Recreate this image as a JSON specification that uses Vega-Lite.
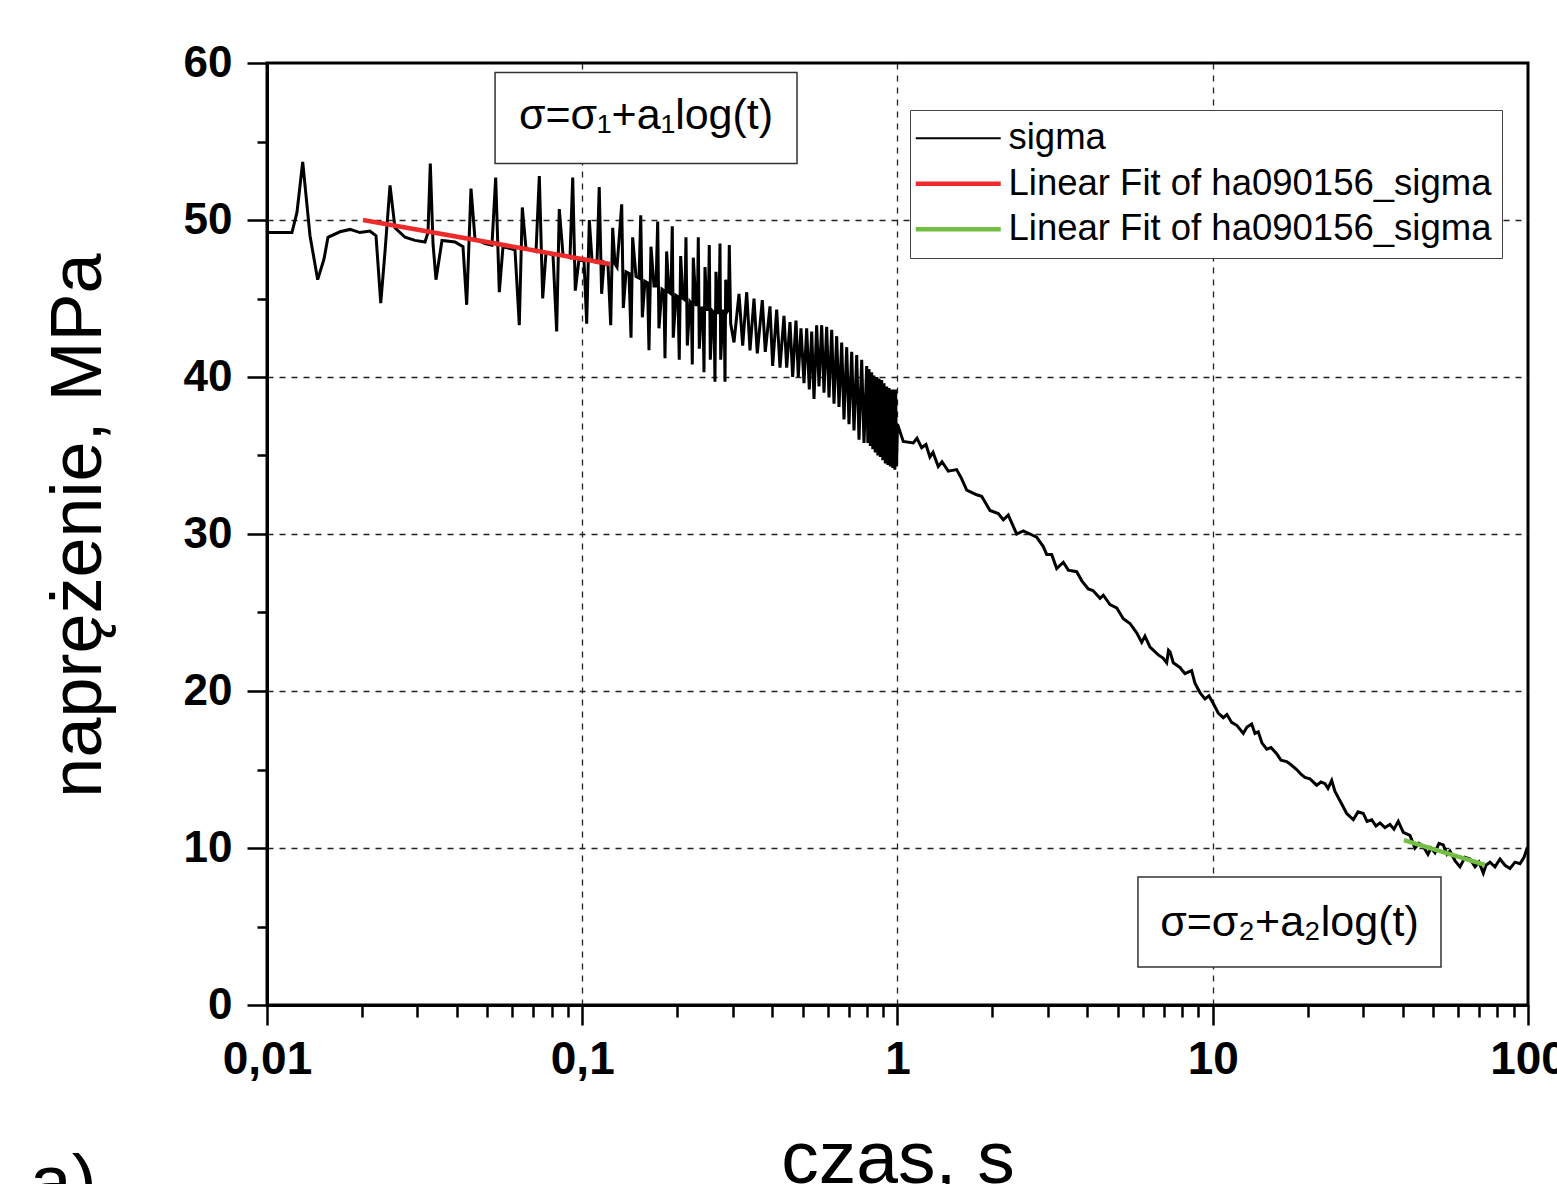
{
  "$schema": "https://vega.github.io/schema/vega-lite/v6.json",
  "width": 1261,
  "height": 942,
  "autosize": {"type": "none"},
  "padding": {"left": 267, "top": 63, "right": 29, "bottom": 179},
  "background": "white",
  "title": {"text": "a)", "orient": "bottom", "anchor": "start", "frame": "group", "offset": 10, "baseline": "alphabetic", "dx": -237, "fontSize": 75, "fontWeight": "normal", "font": "Liberation Sans, Arial, sans-serif", "color": "black"},
  "config": {
    "view": {"stroke": "black", "strokeWidth": 3},
    "font": "Liberation Sans, Arial, sans-serif"
  },
  "datasets": {
    "curve": [
      {"t":0.01,"s":49.2,"k":"sigma"},{"t":0.012,"s":49.2,"k":"sigma"},{"t":0.01245,"s":50.5,"k":"sigma"},{"t":0.01298,"s":53.7,"k":"sigma"},{"t":0.01369,"s":49.0,"k":"sigma"},{"t":0.01448,"s":46.2,"k":"sigma"},{"t":0.01516,"s":47.5,"k":"sigma"},{"t":0.01561,"s":48.9,"k":"sigma"},{"t":0.01704,"s":49.25,"k":"sigma"},{"t":0.01834,"s":49.4,"k":"sigma"},{"t":0.01972,"s":49.2,"k":"sigma"},{"t":0.02121,"s":49.3,"k":"sigma"},{"t":0.02217,"s":49.0,"k":"sigma"},{"t":0.02295,"s":44.7,"k":"sigma"},{"t":0.02368,"s":48.0,"k":"sigma"},{"t":0.02456,"s":52.2,"k":"sigma"},{"t":0.02547,"s":49.5,"k":"sigma"},{"t":0.0274,"s":48.9,"k":"sigma"},{"t":0.02948,"s":48.7,"k":"sigma"},{"t":0.03171,"s":48.6,"k":"sigma"},{"t":0.03241,"s":49.2,"k":"sigma"},{"t":0.03296,"s":53.6,"k":"sigma"},{"t":0.03362,"s":48.5,"k":"sigma"},{"t":0.03436,"s":46.2,"k":"sigma"},{"t":0.0359,"s":48.7,"k":"sigma"},{"t":0.03948,"s":48.6,"k":"sigma"},{"t":0.04185,"s":48.3,"k":"sigma"},{"t":0.043,"s":44.6,"k":"sigma"},{"t":0.04437,"s":52.0,"k":"sigma"},{"t":0.04568,"s":48.8,"k":"sigma"},{"t":0.04914,"s":48.5,"k":"sigma"},{"t":0.05171,"s":48.4,"k":"sigma"},{"t":0.05314,"s":52.7,"k":"sigma"},{"t":0.05456,"s":45.4,"k":"sigma"},{"t":0.05605,"s":48.3,"k":"sigma"},{"t":0.06119,"s":48.1,"k":"sigma"},{"t":0.06314,"s":43.3,"k":"sigma"},{"t":0.06454,"s":50.8,"k":"sigma"},{"t":0.0663,"s":48.2,"k":"sigma"},{"t":0.07135,"s":48.0,"k":"sigma"},{"t":0.07308,"s":52.8,"k":"sigma"},{"t":0.07491,"s":45.0,"k":"sigma"},{"t":0.07674,"s":47.9,"k":"sigma"},{"t":0.08076,"s":47.8,"k":"sigma"},{"t":0.08296,"s":42.9,"k":"sigma"},{"t":0.08456,"s":50.7,"k":"sigma"},{"t":0.08687,"s":47.8,"k":"sigma"},{"t":0.09144,"s":47.6,"k":"sigma"},{"t":0.09327,"s":52.7,"k":"sigma"},{"t":0.09505,"s":45.5,"k":"sigma"},{"t":0.09765,"s":47.5,"k":"sigma"},{"t":0.1013,"s":47.4,"k":"sigma"},{"t":0.1033,"s":43.4,"k":"sigma"},{"t":0.1053,"s":50.0,"k":"sigma"},{"t":0.1074,"s":47.4,"k":"sigma"},{"t":0.1114,"s":47.3,"k":"sigma"},{"t":0.1132,"s":52.1,"k":"sigma"},{"t":0.1152,"s":45.3,"k":"sigma"},{"t":0.1172,"s":47.3,"k":"sigma"},{"t":0.1207,"s":47.1,"k":"sigma"},{"t":0.1231,"s":43.3,"k":"sigma"},{"t":0.1249,"s":49.5,"k":"sigma"},{"t":0.127,"s":47.2,"k":"sigma"},
      {"t":0.1289,"s":47.0,"k":"sigma"},{"t":0.1334,"s":51.0,"k":"sigma"},{"t":0.135,"s":44.4,"k":"sigma"},{"t":0.1377,"s":46.7,"k":"sigma"},{"t":0.1407,"s":46.6,"k":"sigma"},{"t":0.1428,"s":42.5,"k":"sigma"},{"t":0.1445,"s":48.9,"k":"sigma"},{"t":0.1481,"s":46.4,"k":"sigma"},{"t":0.1514,"s":46.3,"k":"sigma"},{"t":0.1533,"s":50.3,"k":"sigma"},{"t":0.1551,"s":43.8,"k":"sigma"},{"t":0.1581,"s":46.1,"k":"sigma"},{"t":0.1611,"s":46.0,"k":"sigma"},{"t":0.1628,"s":41.7,"k":"sigma"},{"t":0.1652,"s":48.3,"k":"sigma"},{"t":0.1689,"s":45.8,"k":"sigma"},{"t":0.1714,"s":45.8,"k":"sigma"},{"t":0.1735,"s":49.9,"k":"sigma"},{"t":0.1751,"s":43.1,"k":"sigma"},{"t":0.179,"s":45.6,"k":"sigma"},{"t":0.1816,"s":45.5,"k":"sigma"},{"t":0.183,"s":41.2,"k":"sigma"},{"t":0.1852,"s":48.0,"k":"sigma"},{"t":0.1884,"s":45.4,"k":"sigma"},{"t":0.1912,"s":45.3,"k":"sigma"},{"t":0.193,"s":49.6,"k":"sigma"},{"t":0.1944,"s":42.5,"k":"sigma"},{"t":0.1983,"s":45.2,"k":"sigma"},{"t":0.2012,"s":45.1,"k":"sigma"},{"t":0.2031,"s":41.1,"k":"sigma"},{"t":0.2052,"s":47.7,"k":"sigma"},{"t":0.2087,"s":45.0,"k":"sigma"},{"t":0.2118,"s":44.9,"k":"sigma"},{"t":0.2133,"s":48.9,"k":"sigma"},{"t":0.2154,"s":42.0,"k":"sigma"},{"t":0.2197,"s":44.8,"k":"sigma"},{"t":0.2218,"s":44.7,"k":"sigma"},{"t":0.2234,"s":40.8,"k":"sigma"},{"t":0.225,"s":47.6,"k":"sigma"},{"t":0.2295,"s":44.6,"k":"sigma"},{"t":0.232,"s":44.6,"k":"sigma"},{"t":0.2334,"s":48.9,"k":"sigma"},{"t":0.2351,"s":41.8,"k":"sigma"},{"t":0.2389,"s":44.4,"k":"sigma"},{"t":0.2415,"s":44.4,"k":"sigma"},{"t":0.2433,"s":40.3,"k":"sigma"},{"t":0.2451,"s":47.0,"k":"sigma"},{"t":0.2487,"s":44.3,"k":"sigma"},{"t":0.2511,"s":44.3,"k":"sigma"},{"t":0.2529,"s":48.4,"k":"sigma"},{"t":0.2548,"s":41.1,"k":"sigma"},{"t":0.2589,"s":44.2,"k":"sigma"},{"t":0.2618,"s":44.1,"k":"sigma"},{"t":0.2636,"s":39.7,"k":"sigma"},{"t":0.2656,"s":46.7,"k":"sigma"},{"t":0.2695,"s":44.1,"k":"sigma"},{"t":0.2715,"s":44.1,"k":"sigma"},{"t":0.2735,"s":48.5,"k":"sigma"},{"t":0.2749,"s":41.1,"k":"sigma"},{"t":0.2795,"s":44.2,"k":"sigma"},{"t":0.282,"s":44.2,"k":"sigma"},{"t":0.2837,"s":39.7,"k":"sigma"},{"t":0.2851,"s":46.2,"k":"sigma"},{"t":0.2889,"s":44.2,"k":"sigma"},{"t":0.291,"s":44.3,"k":"sigma"},{"t":0.2927,"s":48.4,"k":"sigma"},{"t":0.2957,"s":43.4,"k":"sigma"},
      {"t":0.3029,"s":42.2,"k":"sigma"},{"t":0.3142,"s":45.3,"k":"sigma"},{"t":0.3228,"s":42.0,"k":"sigma"},{"t":0.3324,"s":45.4,"k":"sigma"},{"t":0.3405,"s":41.7,"k":"sigma"},{"t":0.3506,"s":45.0,"k":"sigma"},{"t":0.3591,"s":41.5,"k":"sigma"},{"t":0.3725,"s":44.9,"k":"sigma"},{"t":0.3807,"s":41.6,"k":"sigma"},{"t":0.394,"s":44.5,"k":"sigma"},{"t":0.4018,"s":40.7,"k":"sigma"},{"t":0.4138,"s":44.3,"k":"sigma"},{"t":0.4239,"s":40.6,"k":"sigma"},{"t":0.4364,"s":43.9,"k":"sigma"},{"t":0.4451,"s":40.6,"k":"sigma"},{"t":0.456,"s":43.5,"k":"sigma"},{"t":0.465,"s":40.0,"k":"sigma"},{"t":0.4764,"s":43.6,"k":"sigma"},{"t":0.4845,"s":40.0,"k":"sigma"},{"t":0.4941,"s":43.1,"k":"sigma"},{"t":0.5051,"s":39.6,"k":"sigma"},{"t":0.5151,"s":43.1,"k":"sigma"},{"t":0.5251,"s":39.2,"k":"sigma"},{"t":0.5343,"s":42.9,"k":"sigma"},{"t":0.5434,"s":38.6,"k":"sigma"},{"t":0.5541,"s":43.3,"k":"sigma"},{"t":0.5636,"s":39.4,"k":"sigma"},{"t":0.5748,"s":43.3,"k":"sigma"},{"t":0.5846,"s":39.0,"k":"sigma"},{"t":0.5961,"s":43.2,"k":"sigma"},{"t":0.6064,"s":38.7,"k":"sigma"},{"t":0.6184,"s":43.0,"k":"sigma"},{"t":0.6289,"s":38.3,"k":"sigma"},{"t":0.6414,"s":42.6,"k":"sigma"},{"t":0.6523,"s":38.1,"k":"sigma"},{"t":0.6652,"s":42.2,"k":"sigma"},{"t":0.6765,"s":37.3,"k":"sigma"},{"t":0.69,"s":41.9,"k":"sigma"},{"t":0.7017,"s":37.0,"k":"sigma"},{"t":0.7157,"s":41.6,"k":"sigma"},{"t":0.7278,"s":36.6,"k":"sigma"},{"t":0.7424,"s":41.4,"k":"sigma"},{"t":0.7549,"s":36.0,"k":"sigma"},{"t":0.7699,"s":41.1,"k":"sigma"},{"t":0.7829,"s":35.8,"k":"sigma"},{"t":0.7986,"s":40.7,"k":"sigma"},{"t":0.8052,"s":35.8,"k":"sigma"},{"t":0.8121,"s":40.5,"k":"sigma"},{"t":0.82,"s":35.6,"k":"sigma"},{"t":0.8282,"s":40.3,"k":"sigma"},{"t":0.835,"s":35.4,"k":"sigma"},{"t":0.8422,"s":40.1,"k":"sigma"},{"t":0.85,"s":35.2,"k":"sigma"},{"t":0.859,"s":40.0,"k":"sigma"},{"t":0.866,"s":35.0,"k":"sigma"},{"t":0.8736,"s":39.9,"k":"sigma"},{"t":0.882,"s":34.9,"k":"sigma"},{"t":0.8909,"s":39.8,"k":"sigma"},{"t":0.898,"s":34.7,"k":"sigma"},{"t":0.906,"s":39.6,"k":"sigma"},{"t":0.915,"s":34.5,"k":"sigma"},{"t":0.9242,"s":39.4,"k":"sigma"},{"t":0.932,"s":34.4,"k":"sigma"},{"t":0.9397,"s":39.3,"k":"sigma"},{"t":0.949,"s":34.3,"k":"sigma"},{"t":0.9583,"s":39.2,"k":"sigma"},{"t":0.966,"s":34.2,"k":"sigma"},{"t":0.9745,"s":39.2,"k":"sigma"},{"t":0.981,"s":34.1,"k":"sigma"},{"t":0.9867,"s":39.2,"k":"sigma"},{"t":0.9926,"s":34.3,"k":"sigma"},{"t":1.0,"s":37.0,"k":"sigma"},
      {"t":1.043,"s":35.9,"k":"sigma"},{"t":1.122,"s":35.8,"k":"sigma"},{"t":1.153,"s":36.1,"k":"sigma"},{"t":1.193,"s":35.5,"k":"sigma"},{"t":1.231,"s":35.7,"k":"sigma"},{"t":1.267,"s":34.9,"k":"sigma"},{"t":1.296,"s":35.2,"k":"sigma"},{"t":1.347,"s":34.3,"k":"sigma"},{"t":1.384,"s":34.6,"k":"sigma"},{"t":1.449,"s":34.0,"k":"sigma"},{"t":1.54,"s":34.1,"k":"sigma"},{"t":1.59,"s":33.6,"k":"sigma"},{"t":1.658,"s":32.8,"k":"sigma"},{"t":1.783,"s":32.5,"k":"sigma"},{"t":1.849,"s":32.4,"k":"sigma"},{"t":1.965,"s":31.5,"k":"sigma"},{"t":2.088,"s":31.3,"k":"sigma"},{"t":2.166,"s":30.9,"k":"sigma"},{"t":2.246,"s":31.2,"k":"sigma"},{"t":2.388,"s":30.0,"k":"sigma"},{"t":2.506,"s":30.2,"k":"sigma"},{"t":2.631,"s":30.0,"k":"sigma"},{"t":2.763,"s":29.8,"k":"sigma"},{"t":2.9,"s":29.2,"k":"sigma"},{"t":2.973,"s":28.7,"k":"sigma"},{"t":3.084,"s":28.7,"k":"sigma"},{"t":3.199,"s":27.8,"k":"sigma"},{"t":3.357,"s":28.2,"k":"sigma"},{"t":3.482,"s":27.7,"k":"sigma"},{"t":3.702,"s":27.6,"k":"sigma"},{"t":3.848,"s":27.0,"k":"sigma"},{"t":4.029,"s":26.5,"k":"sigma"},{"t":4.17,"s":26.4,"k":"sigma"},{"t":4.389,"s":25.9,"k":"sigma"},{"t":4.497,"s":26.1,"k":"sigma"},{"t":4.721,"s":25.5,"k":"sigma"},{"t":4.957,"s":25.3,"k":"sigma"},{"t":5.203,"s":24.6,"k":"sigma"},{"t":5.463,"s":24.3,"k":"sigma"},{"t":5.738,"s":23.7,"k":"sigma"},{"t":5.951,"s":23.1,"k":"sigma"},{"t":6.095,"s":23.5,"k":"sigma"},{"t":6.324,"s":22.8,"k":"sigma"},{"t":6.719,"s":22.3,"k":"sigma"},{"t":6.954,"s":22.1,"k":"sigma"},{"t":7.144,"s":21.8,"k":"sigma"},{"t":7.239,"s":22.6,"k":"sigma"},{"t":7.318,"s":22.5,"k":"sigma"},{"t":7.497,"s":21.8,"k":"sigma"},{"t":7.87,"s":21.5,"k":"sigma"},{"t":8.163,"s":21.1,"k":"sigma"},{"t":8.571,"s":21.3,"k":"sigma"},{"t":8.781,"s":20.5,"k":"sigma"},{"t":9.108,"s":19.9,"k":"sigma"},{"t":9.447,"s":19.5,"k":"sigma"},{"t":9.727,"s":19.7,"k":"sigma"},{"t":10.04,"s":19.2,"k":"sigma"},{"t":10.41,"s":18.6,"k":"sigma"},{"t":10.8,"s":18.3,"k":"sigma"},{"t":11.09,"s":18.5,"k":"sigma"},{"t":11.48,"s":18.0,"k":"sigma"},{"t":11.94,"s":17.8,"k":"sigma"},{"t":12.5,"s":17.3,"k":"sigma"},{"t":12.84,"s":17.7,"k":"sigma"},{"t":13.29,"s":17.9,"k":"sigma"},{"t":13.61,"s":17.3,"k":"sigma"},{"t":13.94,"s":17.4,"k":"sigma"},{"t":14.32,"s":16.7,"k":"sigma"},{"t":14.83,"s":16.3,"k":"sigma"},{"t":15.3,"s":16.4,"k":"sigma"},{"t":15.95,"s":16.0,"k":"sigma"},{"t":16.46,"s":15.6,"k":"sigma"},{"t":17.16,"s":15.5,"k":"sigma"},{"t":17.71,"s":15.3,"k":"sigma"},{"t":18.46,"s":15.0,"k":"sigma"},{"t":19.05,"s":14.7,"k":"sigma"},{"t":19.61,"s":14.5,"k":"sigma"},{"t":20.34,"s":14.4,"k":"sigma"},{"t":21.36,"s":14.0,"k":"sigma"},{"t":22.04,"s":14.2,"k":"sigma"},{"t":22.7,"s":14.1,"k":"sigma"},{"t":23.2,"s":13.8,"k":"sigma"},{"t":23.84,"s":14.3,"k":"sigma"},{"t":24.42,"s":13.6,"k":"sigma"},{"t":25.65,"s":12.8,"k":"sigma"},{"t":26.6,"s":12.2,"k":"sigma"},{"t":27.92,"s":11.8,"k":"sigma"},{"t":28.89,"s":12.3,"k":"sigma"},{"t":30.03,"s":12.2,"k":"sigma"},{"t":30.85,"s":11.7,"k":"sigma"},{"t":31.93,"s":11.8,"k":"sigma"},{"t":32.94,"s":11.4,"k":"sigma"},{"t":33.92,"s":11.6,"k":"sigma"},{"t":35.18,"s":11.3,"k":"sigma"},{"t":36.49,"s":11.5,"k":"sigma"},{"t":37.57,"s":11.2,"k":"sigma"},{"t":38.77,"s":11.7,"k":"sigma"},{"t":40.21,"s":11.0,"k":"sigma"},{"t":42.23,"s":10.8,"k":"sigma"},{"t":43.8,"s":10.0,"k":"sigma"},{"t":45.09,"s":10.3,"k":"sigma"},{"t":46.53,"s":10.1,"k":"sigma"},{"t":48.16,"s":9.6,"k":"sigma"},{"t":49.23,"s":10.0,"k":"sigma"},{"t":50.69,"s":9.7,"k":"sigma"},{"t":52.19,"s":10.3,"k":"sigma"},{"t":53.85,"s":10.2,"k":"sigma"},{"t":55.34,"s":9.6,"k":"sigma"},{"t":56.56,"s":9.8,"k":"sigma"},{"t":58.66,"s":9.2,"k":"sigma"},{"t":60.84,"s":8.8,"k":"sigma"},{"t":63.11,"s":9.4,"k":"sigma"},{"t":65.47,"s":9.3,"k":"sigma"},{"t":67.9,"s":8.8,"k":"sigma"},{"t":69.92,"s":9.1,"k":"sigma"},{"t":72.15,"s":8.4,"k":"sigma"},{"t":73.59,"s":8.9,"k":"sigma"},{"t":75.77,"s":9.1,"k":"sigma"},{"t":78.58,"s":8.8,"k":"sigma"},{"t":81.51,"s":9.3,"k":"sigma"},{"t":84.53,"s":8.9,"k":"sigma"},{"t":87.68,"s":8.7,"k":"sigma"},{"t":90.94,"s":9.1,"k":"sigma"},{"t":94.32,"s":9.0,"k":"sigma"},{"t":97.12,"s":9.4,"k":"sigma"},{"t":99.0,"s":9.9,"k":"sigma"},{"t":100,"s":9.8,"k":"sigma"}
    ],
    "fits": [
      {"t":0.02016,"s":50.0,"k":"fit1"},{"t":0.1225,"s":47.2,"k":"fit1"},
      {"t":40.4,"s":10.5,"k":"fit2"},{"t":73.1,"s":8.92,"k":"fit2"}
    ],
    "boxes": [
      {"t":0.0529,"t2":0.48,"s":59.4,"s2":53.6,"label":"σ=σ₁+a₁log(t)"},
      {"t":5.791,"t2":52.97,"s":8.15,"s2":2.42,"label":"σ=σ₂+a₂log(t)"}
    ],
    "labels": [
      {"t":0.1593,"s":56.6,"label":"σ=σ₁+a₁log(t)"},
      {"t":17.51,"s":5.2,"label":"σ=σ₂+a₂log(t)"}
    ]
  },
  "layer": [
    {
      "data": {"name": "curve"},
      "mark": {"type": "line", "strokeWidth": 3, "interpolate": "linear"},
      "encoding": {
        "x": {
          "field": "t", "type": "quantitative",
          "scale": {"type": "log", "domain": [0.01, 100], "nice": false},
          "axis": {
            "title": "czas, s", "titleFontSize": 75, "titleFontWeight": "normal", "titleColor": "black",
            "titleX": 630.5, "titleY": 177, "titleBaseline": "alphabetic", "titleAlign": "center",
            "values": [0.01,0.02,0.03,0.04,0.05,0.06,0.07,0.08,0.09,0.1,0.2,0.3,0.4,0.5,0.6,0.7,0.8,0.9,1,2,3,4,5,6,7,8,9,10,20,30,40,50,60,70,80,90,100],
            "labelExpr": "datum.value === 0.01 ? '0,01' : datum.value === 0.1 ? '0,1' : datum.value === 1 ? '1' : datum.value === 10 ? '10' : datum.value === 100 ? '100' : ''",
            "labelFontSize": 46, "labelFontWeight": "bold", "labelColor": "black", "labelPadding": 12,
            "labelOverlap": false, "labelFlush": false, "labelBound": false,
            "tickSize": {"condition": {"test": "datum.value === 0.01 || datum.value === 0.1 || datum.value === 1 || datum.value === 10 || datum.value === 100", "value": 20}, "value": 12},
            "tickWidth": 2.5, "tickColor": "black", "domainColor": "black", "domainWidth": 3,
            "grid": true, "gridColor": "#222222", "gridDash": [6, 6], "gridWidth": 1.3,
            "gridOpacity": {"condition": {"test": "datum.value === 0.1 || datum.value === 1 || datum.value === 10", "value": 1}, "value": 0}
          }
        },
        "y": {
          "field": "s", "type": "quantitative",
          "scale": {"domain": [0, 60], "nice": false},
          "axis": {
            "title": "naprężenie, MPa", "titleFontSize": 72, "titleFontWeight": "normal", "titleColor": "black",
            "titleX": -167, "titleY": 462, "titleAngle": 270, "titleBaseline": "alphabetic", "titleAlign": "center",
            "values": [0,5,10,15,20,25,30,35,40,45,50,55,60],
            "labelExpr": "datum.value % 10 === 0 ? datum.label : ''",
            "labelFontSize": 44, "labelFontWeight": "bold", "labelColor": "black", "labelPadding": 15,
            "labelOverlap": false, "labelFlush": false, "labelBound": false,
            "tickSize": {"condition": {"test": "datum.value % 10 === 0", "value": 20}, "value": 10},
            "tickWidth": 2.5, "tickColor": "black", "domainColor": "black", "domainWidth": 3,
            "grid": true, "gridColor": "#222222", "gridDash": [6, 6], "gridWidth": 1.3,
            "gridOpacity": {"condition": {"test": "datum.value % 10 === 0 && datum.value > 0 && datum.value < 60", "value": 1}, "value": 0}
          }
        },
        "color": {
          "field": "k", "type": "nominal",
          "scale": {"domain": ["sigma", "fit1", "fit2"], "range": ["black", "#ee2b2b", "#72bf44"]},
          "legend": {
            "orient": "none", "legendX": 643, "legendY": 47, "title": null,
            "fillColor": "white", "strokeColor": "#444444", "padding": 10,
            "symbolType": "stroke", "symbolSize": 7225, "symbolStrokeWidth": 3, "symbolOffset": 20,
            "labelFontSize": 36.5, "labelColor": "black", "labelLimit": 0, "labelOffset": 32, "rowPadding": 8.5,
            "labelExpr": "datum.value === 'sigma' ? 'sigma' : 'Linear Fit of ha090156_sigma'",
            "encode": {"symbols": {"update": {"strokeWidth": {"signal": "datum.value === 'sigma' ? 2 : 4.5"}}}}
          }
        }
      }
    },
    {
      "data": {"name": "fits"},
      "mark": {"type": "line", "strokeWidth": 4.5},
      "encoding": {
        "x": {"field": "t", "type": "quantitative"},
        "y": {"field": "s", "type": "quantitative"},
        "color": {"field": "k", "type": "nominal"}
      }
    },
    {
      "data": {"name": "boxes"},
      "mark": {"type": "rect", "fill": "white", "stroke": "#333333", "strokeWidth": 1.5},
      "encoding": {
        "x": {"field": "t", "type": "quantitative"},
        "x2": {"field": "t2"},
        "y": {"field": "s", "type": "quantitative"},
        "y2": {"field": "s2"}
      }
    },
    {
      "data": {"name": "labels"},
      "mark": {"type": "text", "fontSize": 43, "color": "black", "align": "center", "baseline": "middle"},
      "encoding": {
        "x": {"field": "t", "type": "quantitative"},
        "y": {"field": "s", "type": "quantitative"},
        "text": {"field": "label"}
      }
    }
  ]
}
